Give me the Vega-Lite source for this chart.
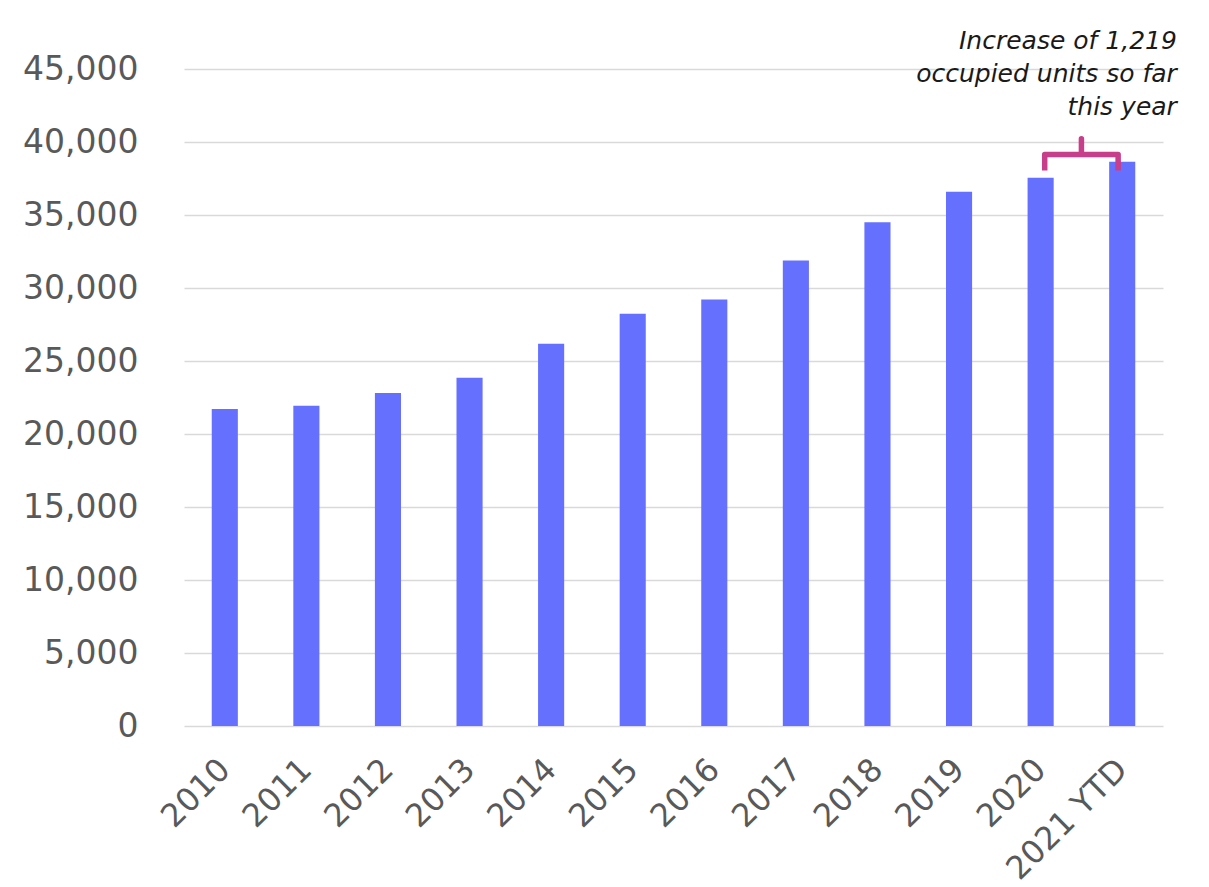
{
  "$schema": "https://vega.github.io/schema/vega-lite/v6.json",
  "autosize": "none",
  "width": 979,
  "height": 657,
  "padding": {"left": 184, "top": 69, "right": 46, "bottom": 161},
  "background": "white",
  "config": {"view": {"stroke": null}},
  "datasets": {
    "bars": [
      {"year": "2010", "units": 21720},
      {"year": "2011", "units": 21930},
      {"year": "2012", "units": 22810},
      {"year": "2013", "units": 23860},
      {"year": "2014", "units": 26180},
      {"year": "2015", "units": 28230},
      {"year": "2016", "units": 29210},
      {"year": "2017", "units": 31880},
      {"year": "2018", "units": 34500},
      {"year": "2019", "units": 36590},
      {"year": "2020", "units": 37550},
      {"year": "2021 YTD", "units": 38640}
    ],
    "bracket": [
      {"order": 1, "pos": 10.55, "val": 38050},
      {"order": 2, "pos": 10.55, "val": 39140},
      {"order": 3, "pos": 11.0, "val": 39140},
      {"order": 4, "pos": 11.0, "val": 40230},
      {"order": 5, "pos": 11.0, "val": 39140},
      {"order": 6, "pos": 11.45, "val": 39140},
      {"order": 7, "pos": 11.45, "val": 38050}
    ],
    "note": [
      {"pos": 12.17, "val": 46380, "label": ["Increase of 1,219", "occupied units so far", "this year"]}
    ]
  },
  "layer": [
    {
      "data": {"name": "bars"},
      "mark": {"type": "bar", "color": "#6670FF"},
      "encoding": {
        "x": {
          "field": "year",
          "type": "nominal",
          "sort": null,
          "scale": {"paddingInner": 0.68, "paddingOuter": 0.34},
          "axis": {
            "title": null,
            "domain": false,
            "ticks": false,
            "labelAngle": -45,
            "labelAlign": "right",
            "labelBaseline": "middle",
            "labelPadding": 38,
            "labelFont": "DejaVu Sans",
            "labelFontSize": 32,
            "labelColor": "#595959"
          }
        },
        "y": {
          "field": "units",
          "type": "quantitative",
          "scale": {"domain": [0, 45000], "nice": false},
          "axis": {
            "title": null,
            "domain": false,
            "ticks": false,
            "values": [0, 5000, 10000, 15000, 20000, 25000, 30000, 35000, 40000, 45000],
            "format": ",d",
            "labelPadding": 46,
            "labelFont": "DejaVu Sans",
            "labelFontSize": 33,
            "labelColor": "#595959",
            "grid": true,
            "gridColor": "#d9d9d9",
            "gridWidth": 1.5
          }
        }
      }
    },
    {
      "data": {"name": "bracket"},
      "mark": {"type": "line", "color": "#C73E8A", "strokeWidth": 5.5, "strokeJoin": "round", "strokeCap": "butt", "clip": false},
      "encoding": {
        "x": {"field": "pos", "type": "quantitative", "scale": {"domain": [0, 12], "nice": false, "zero": false}, "axis": null},
        "y": {"field": "val", "type": "quantitative"},
        "order": {"field": "order", "type": "quantitative"}
      }
    },
    {
      "data": {"name": "note"},
      "mark": {"type": "text", "align": "right", "baseline": "alphabetic", "font": "DejaVu Sans", "fontStyle": "italic", "fontSize": 25, "lineHeight": 33, "color": "#1a1a1a", "clip": false},
      "encoding": {
        "x": {"field": "pos", "type": "quantitative", "scale": {"domain": [0, 12], "nice": false, "zero": false}, "axis": null},
        "y": {"field": "val", "type": "quantitative"},
        "text": {"field": "label"}
      }
    }
  ],
  "resolve": {"scale": {"x": "independent"}}
}
